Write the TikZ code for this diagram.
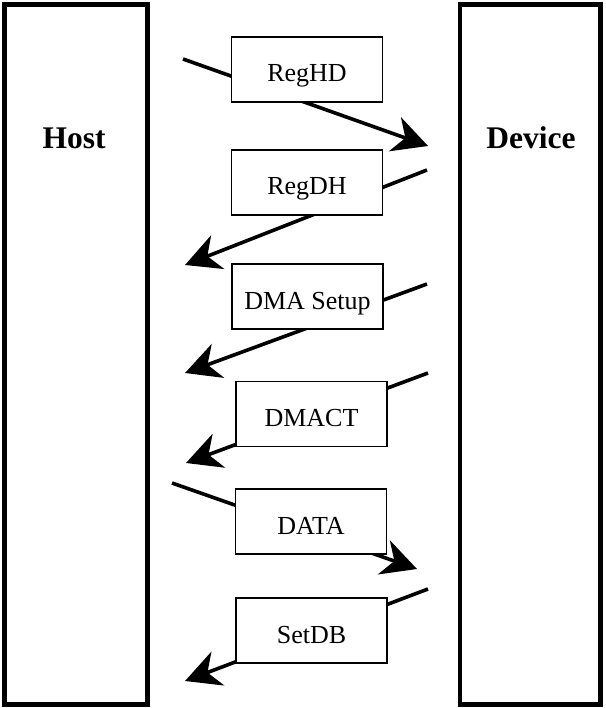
\documentclass[tikz,border=0pt]{standalone}
\usepackage{fontspec}
\setmainfont{Liberation Serif}
\usetikzlibrary{arrows.meta}
\begin{document}
\begin{tikzpicture}[x=1pt,y=-1pt,
  sidebox/.style={draw, line width=4.6pt, minimum height=700pt, inner sep=0pt},
  sidetext/.style={anchor=base, inner sep=0pt, font=\fontsize{31.5}{36}\selectfont\bfseries},
  msg/.style={draw, fill=white, line width=1.6pt, minimum width=151pt, minimum height=65pt,
    inner sep=0pt, text height=25pt, text depth=0pt, font=\fontsize{26}{30}\selectfont},
  flow/.style={line width=3.6pt, -{Stealth[length=35pt,width=36pt,inset=11pt]}}
]
\useasboundingbox (0,0) rectangle (605,708);

% side boxes
\node[sidebox, minimum width=143pt] (host) at (75.9,354.5) {};
\node[sidebox, minimum width=140.5pt] (device) at (530.2,354.5) {};
\node[sidetext] (hostlbl) at (74,149) {Host};
\node[sidetext] (devlbl) at (531,149) {Device};

% connector end points
\coordinate (s1) at (183,59);  \coordinate (e1) at (428,146);
\coordinate (s2) at (427,170); \coordinate (e2) at (185,265);
\coordinate (s3) at (427,284); \coordinate (e3) at (185,373);
\coordinate (s4) at (428,373); \coordinate (e4) at (186,463);
\coordinate (s5) at (172,483); \coordinate (e5) at (417,569);
\coordinate (s6) at (428,589); \coordinate (e6) at (185,681);

\draw[flow] (s1) -- (e1);
\draw[flow] (s2) -- (e2);
\draw[flow] (s3) -- (e3);
\draw[flow] (s4) -- (e4);
\draw[flow] (s5) -- (e5);
\draw[flow] (s6) -- (e6);

% message boxes
\node[msg] (reghd) at (307,69.5) {RegHD};
\node[msg] (regdh) at (307,182.5) {RegDH};
\node[msg] (dmasetup) at (307.5,296.5) {DMA Setup};
\node[msg] (dmact) at (311.5,414) {DMACT};
\node[msg] (data) at (311,521.5) {DATA};
\node[msg] (setdb) at (311.5,630.5) {SetDB};
\end{tikzpicture}
\end{document}
